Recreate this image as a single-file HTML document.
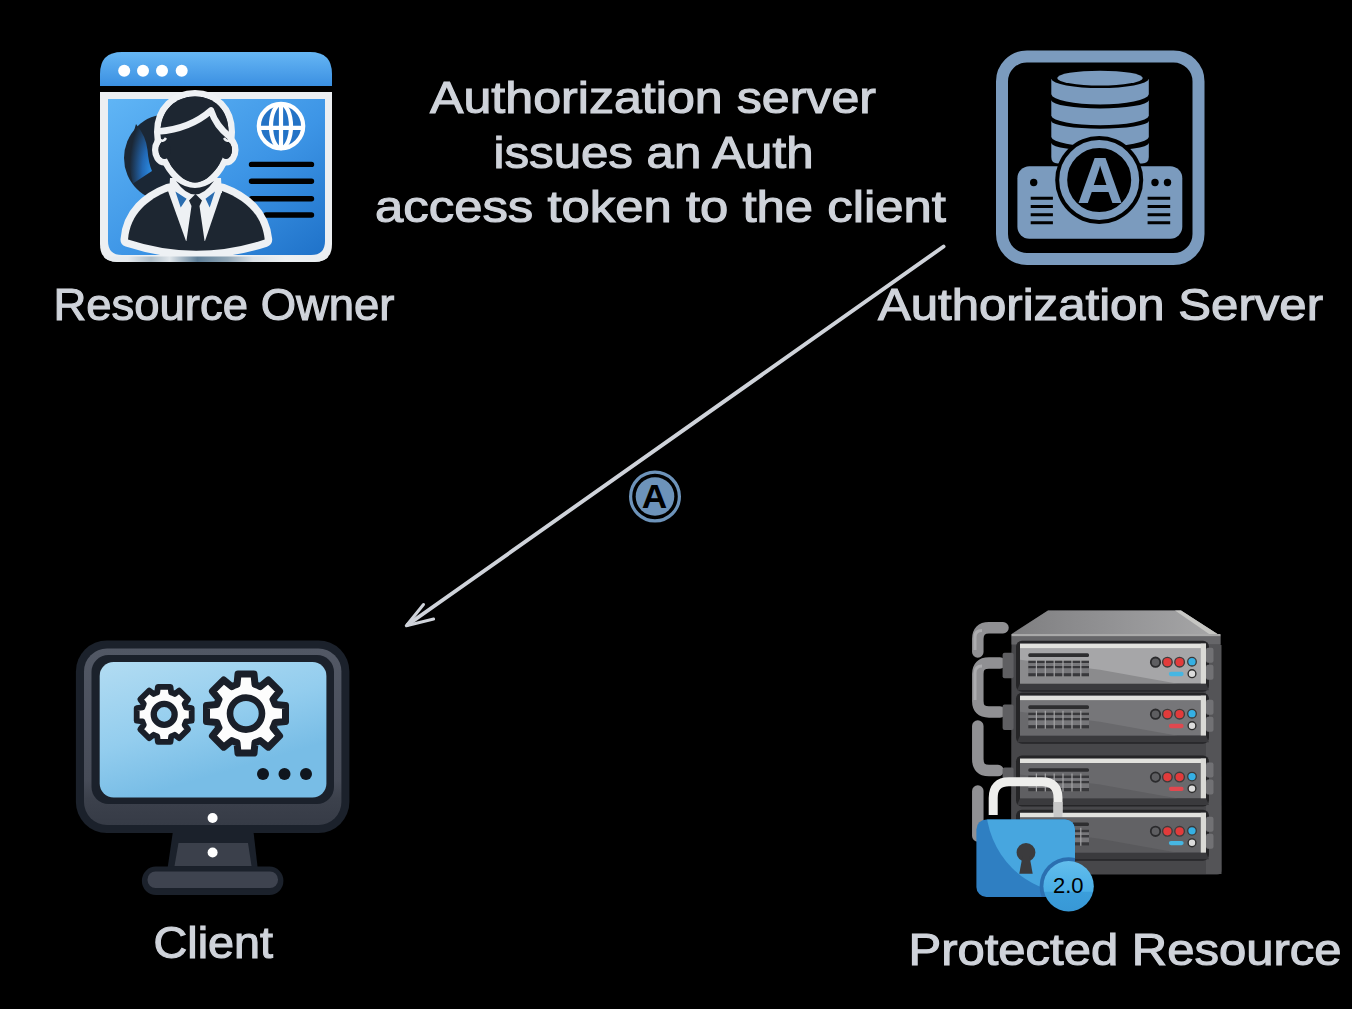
<!DOCTYPE html>
<html><head><meta charset="utf-8">
<style>
html,body{margin:0;padding:0;background:#000;width:1352px;height:1009px;overflow:hidden;}
svg{position:absolute;left:0;top:0;display:block;}
.t{will-change:transform;}
.t{font-family:"Liberation Sans",sans-serif;fill:#cfd3da;font-size:44px;stroke:#cfd3da;stroke-width:1.1px;}
</style></head>
<body>
<svg width="1352" height="1009" viewBox="0 0 1352 1009">
<defs>
  <linearGradient id="obar" x1="0" y1="0" x2="0" y2="1"><stop offset="0" stop-color="#66b6f4"/><stop offset="1" stop-color="#3b90e2"/></linearGradient>
  <linearGradient id="oin" x1="0" y1="0" x2="1" y2="1"><stop offset="0" stop-color="#60b5f5"/><stop offset="0.55" stop-color="#3d95e6"/><stop offset="1" stop-color="#1f72c9"/></linearGradient>
  <linearGradient id="ocirc" x1="0" y1="0" x2="1" y2="1"><stop offset="0" stop-color="#23364a"/><stop offset="1" stop-color="#152030"/></linearGradient>
  <radialGradient id="swirl" cx="0.95" cy="0.78" r="0.95"><stop offset="0" stop-color="#2b8ae0"/><stop offset="0.4" stop-color="#2269b6"/><stop offset="1" stop-color="#1b2735"/></radialGradient>
  <linearGradient id="cgrey" x1="0" y1="648" x2="0" y2="825" gradientUnits="userSpaceOnUse"><stop offset="0" stop-color="#525865"/><stop offset="0.75" stop-color="#474c58"/><stop offset="0.85" stop-color="#3c414c"/><stop offset="1" stop-color="#363b46"/></linearGradient>
  <linearGradient id="cscr" x1="100" y1="662" x2="140" y2="797" gradientUnits="userSpaceOnUse"><stop offset="0" stop-color="#b2dcf2"/><stop offset="0.6" stop-color="#93cdee"/><stop offset="1" stop-color="#78bde6"/></linearGradient>
  <linearGradient id="pface" x1="0" y1="0" x2="0" y2="1"><stop offset="0" stop-color="#a2a2a4"/><stop offset="1" stop-color="#8c8c8e"/></linearGradient>
  <linearGradient id="ptop" x1="0" y1="0" x2="1" y2="0"><stop offset="0" stop-color="#7f7f81"/><stop offset="0.5" stop-color="#939395"/><stop offset="1" stop-color="#a7a7a8"/></linearGradient>
  <linearGradient id="pbadge" x1="0" y1="0" x2="0" y2="1"><stop offset="0" stop-color="#62bdec"/><stop offset="0.6" stop-color="#4aaee6"/><stop offset="0.62" stop-color="#3b9edb"/><stop offset="1" stop-color="#3898d6"/></linearGradient>
  <linearGradient id="ometal" x1="0" y1="0" x2="1" y2="0"><stop offset="0" stop-color="#e9edf0"/><stop offset="0.12" stop-color="#e6eaee"/><stop offset="0.22" stop-color="#aebdc8"/><stop offset="0.3" stop-color="#dfe5ea"/><stop offset="0.42" stop-color="#5f7f98"/><stop offset="0.55" stop-color="#8fa5b5"/><stop offset="0.66" stop-color="#dde3e8"/><stop offset="0.8" stop-color="#eef1f3"/><stop offset="1" stop-color="#e9edf0"/></linearGradient>
</defs>
<rect width="1352" height="1009" fill="#000"/>

<!-- ============ RESOURCE OWNER ICON ============ -->
<g id="owner">
  <path d="M100,86 L100,74 Q100,52 122,52 L310,52 Q332,52 332,74 L332,86 Z" fill="url(#obar)"/>
  <g fill="#fff"><circle cx="124.2" cy="70.7" r="6"/><circle cx="143" cy="70.7" r="6"/><circle cx="162" cy="70.7" r="6"/><circle cx="181.7" cy="70.7" r="6"/></g>
  <path d="M100,92 L332,92 L332,244 Q332,262 314,262 L118,262 Q100,262 100,244 Z" fill="#eceff2"/>
  <path d="M108,99 L325,99 L325,241 Q325,255 311,255 L122,255 Q108,255 108,241 Z" fill="url(#oin)"/>
  <!-- globe -->
  <g fill="none" stroke="#fff" stroke-width="4.2">
    <circle cx="281" cy="126.1" r="22.2" fill="#2473c6"/>
    <ellipse cx="281" cy="126.1" rx="10" ry="22"/>
    <path d="M281,104V148M259,127.9H303"/>
  </g>
  <!-- text lines -->
  <g stroke="#000" stroke-width="5.4" stroke-linecap="round">
    <path d="M251.5,164.4H311.5M251.5,181.3H311.5M251.5,198.7H311.5M266,215H311.5"/>
  </g>
  <!-- dark circle -->
  <circle cx="168" cy="158" r="44" fill="#1b2735"/>
  <path d="M136,124 Q146,136 147.5,150 Q148.5,163 152,171 L133,183.5 Q125,158 136,124 Z" fill="url(#swirl)"/>
  <!-- body white outline + dark -->
  <path d="M128,239.5 C130,214 148,199 169,191 L222,191 C244,199 262,214 264.7,239.5 Q196,262 128,239.5 Z" fill="#1d2631" stroke="#eef1f4" stroke-width="15" stroke-linejoin="round" paint-order="stroke"/>
  <clipPath id="frameclip"><path d="M100,92 L332,92 L332,244 Q332,262 314,262 L118,262 Q100,262 100,244 Z"/></clipPath>
  <rect x="100" y="256.5" width="232" height="6" fill="url(#ometal)" clip-path="url(#frameclip)"/>
  <path d="M170,178 L221,178 L222,193 L169,193 Z" fill="#eef1f4"/>
  <!-- head -->
  <g fill="#1d2631" stroke="#eef1f4" stroke-width="13" paint-order="stroke">
    <path d="M160.5,132 C160.5,110 176,96.5 195,96.5 C214,96.5 228.5,110 228.5,132 C228.5,157 211,182.5 195,182.5 C179,182.5 160.5,157 160.5,132 Z"/>
    <ellipse cx="164.5" cy="150" rx="6" ry="9"/>
    <ellipse cx="226" cy="150" rx="6" ry="9"/>
  </g>
  <path d="M160.5,132 C160.5,110 176,96.5 195,96.5 C214,96.5 228.5,110 228.5,132 C228.5,157 211,182.5 195,182.5 C179,182.5 160.5,157 160.5,132 Z" fill="#1d2631"/>
  <ellipse cx="164.5" cy="150" rx="6" ry="9" fill="#1d2631"/>
  <ellipse cx="226" cy="150" rx="6" ry="9" fill="#1d2631"/>
  <path d="M158,131.5 Q190,129 211,110.5 Q216,126 230,137" fill="none" stroke="#eef1f4" stroke-width="6.5" stroke-linejoin="round"/>
  <path d="M159,139 Q163,143 166,138 M231,139 Q227,143 224,138" fill="none" stroke="#eef1f4" stroke-width="2.5"/>
  <!-- shirt -->
  <path d="M168,191 L222,191 L205,241 L186,241 Z" fill="#eef1f4"/>
  <path d="M175.4,191.6 L186.6,198.7 L180.7,207.5 Z M215,191.6 L205.5,198.7 L209.7,207.5 Z" fill="#2a6db0"/>
  <path d="M195.5,194 L202,200.5 L199.5,206 L205,244 L186,244 L191.5,206 L189,200.5 Z" fill="#1d2631"/>
  <path d="M176,181 Q195,208 214,181 Q195,195 176,181 Z" fill="#1d2631"/>
</g>

<!-- ============ AUTH SERVER ICON ============ -->
<g id="auth">
  <rect x="1002" y="56.4" width="196.5" height="202.6" rx="25" ry="25" fill="none" stroke="#7b9bbe" stroke-width="12"/>
  <!-- database -->
  <path d="M1051.3,79 L1148.8,79 L1148.8,157 Q1148.8,163.5 1142,163.5 L1058,163.5 Q1051.3,163.5 1051.3,157 Z" fill="#7b9bbe"/>
  <path d="M1046,64 L1154,64 L1154,79 L1148.8,79 A48.8,9.5 0 0 1 1051.3,79 L1046,79 Z" fill="#000"/>
  <ellipse cx="1100" cy="78.1" rx="42.8" ry="7.4" fill="#7b9bbe"/>
  <path d="M1046,94.5 L1051.3,94.5 A48.8,10.5 0 0 0 1148.8,94.5 L1154,94.5 L1154,100.4 L1148.8,100.4 A48.8,8.4 0 0 1 1051.3,100.4 L1046,100.4 Z" fill="#000"/>
  <path d="M1046,116 L1051.3,116 A48.8,9.6 0 0 0 1148.8,116 L1154,116 L1154,121.2 L1148.8,121.2 A48.8,7.8 0 0 1 1051.3,121.2 L1046,121.2 Z" fill="#000"/>
  <path d="M1046,137.3 L1051.3,137.3 A48.8,9.6 0 0 0 1148.8,137.3 L1154,137.3 L1154,143.3 L1148.8,143.3 A48.8,7.8 0 0 1 1051.3,143.3 L1046,143.3 Z" fill="#000"/>
  <!-- base -->
  <rect x="1017.4" y="166.2" width="164.9" height="72.5" rx="12" fill="#7b9bbe"/>
  <circle cx="1033.7" cy="182.5" r="3.7" fill="#000"/>
  <circle cx="1155" cy="182.5" r="3.7" fill="#000"/>
  <circle cx="1167.5" cy="182.5" r="3.7" fill="#000"/>
  <g stroke="#000" stroke-width="3">
    <path d="M1030.7,198.3H1052.9M1030.7,206.5H1052.9M1030.7,214.8H1052.9M1030.7,222.8H1052.9"/>
    <path d="M1147.6,198.3H1170.2M1147.6,206.5H1170.2M1147.6,214.8H1170.2M1147.6,222.8H1170.2"/>
  </g>
  <!-- A circle -->
  <circle cx="1099.2" cy="180" r="44" fill="#000"/>
  <circle cx="1099.2" cy="180" r="36" fill="none" stroke="#7b9bbe" stroke-width="8"/>
  <text x="1100" y="202.5" text-anchor="middle" font-family="Liberation Sans" font-weight="bold" font-size="64" fill="#7b9bbe">A</text>
</g>

<!-- ============ CLIENT ICON ============ -->
<g id="client">
  <rect x="75.9" y="640.4" width="273.5" height="192.6" rx="31" fill="#1b212b"/>
  <rect x="84" y="648.4" width="257.4" height="176.6" rx="23" fill="url(#cgrey)"/>
  <rect x="91.5" y="655" width="242.5" height="149" rx="17" fill="#1b212b"/>
  <rect x="99.7" y="662" width="226.7" height="135.5" rx="14" fill="url(#cscr)"/>
  <circle cx="212.6" cy="818" r="5" fill="#fff"/>
  <path d="M173,831 L253.4,831 L257.7,868 L167.6,868 Z" fill="#1b212b"/>
  <path d="M178.5,843 L248,843 L251.5,866 L174.5,866 Z" fill="#3b404b"/>
  <circle cx="212.6" cy="852.5" r="5" fill="#fff"/>
  <rect x="141.9" y="866.6" width="141.5" height="28.4" rx="14" fill="#1b212b"/>
  <rect x="147.5" y="871.5" width="130.5" height="16.5" rx="8" fill="#3e434f"/>
  <g fill="#10161e"><circle cx="263" cy="774" r="6"/><circle cx="284.5" cy="774" r="6"/><circle cx="306" cy="774" r="6"/></g>
  <path d="M157.2,692.6 L157.9,686.9 L170.5,686.9 L171.2,692.6 A22.9,22.9 0 0 1 174.7,694.0 L179.2,690.5 L188.1,699.4 L184.6,703.9 A22.9,22.9 0 0 1 186.0,707.4 L191.7,708.1 L191.7,720.7 L186.0,721.4 A22.9,22.9 0 0 1 184.6,724.9 L188.1,729.4 L179.2,738.3 L174.7,734.8 A22.9,22.9 0 0 1 171.2,736.2 L170.5,741.9 L157.9,741.9 L157.2,736.2 A22.9,22.9 0 0 1 153.7,734.8 L149.2,738.3 L140.3,729.4 L143.8,724.9 A22.9,22.9 0 0 1 142.4,721.4 L136.7,720.7 L136.7,708.1 L142.4,707.4 A22.9,22.9 0 0 1 143.8,703.9 L140.3,699.4 L149.2,690.5 L153.7,694.0 A22.9,22.9 0 0 1 157.2,692.6 Z" fill="#fdfdfd" stroke="#1a1f29" stroke-width="5.8" stroke-linejoin="round"/>
  <circle cx="164.2" cy="714.4" r="10.45" fill="url(#cscr)" stroke="#1a1f29" stroke-width="6.3"/>
  <path d="M237.0,684.5 L238.0,674.1 L254.0,674.1 L255.0,684.5 A30.5,30.5 0 0 1 260.2,686.6 L268.3,680.0 L279.6,691.3 L273.0,699.4 A30.5,30.5 0 0 1 275.1,704.6 L285.5,705.6 L285.5,721.6 L275.1,722.6 A30.5,30.5 0 0 1 273.0,727.8 L279.6,735.9 L268.3,747.2 L260.2,740.6 A30.5,30.5 0 0 1 255.0,742.7 L254.0,753.1 L238.0,753.1 L237.0,742.7 A30.5,30.5 0 0 1 231.8,740.6 L223.7,747.2 L212.4,735.9 L219.0,727.8 A30.5,30.5 0 0 1 216.9,722.6 L206.5,721.6 L206.5,705.6 L216.9,704.6 A30.5,30.5 0 0 1 219.0,699.4 L212.4,691.3 L223.7,680.0 L231.8,686.6 A30.5,30.5 0 0 1 237.0,684.5 Z" fill="#fdfdfd" stroke="#1a1f29" stroke-width="7" stroke-linejoin="round"/>
  <circle cx="246" cy="713.6" r="16" fill="url(#cscr)" stroke="#1a1f29" stroke-width="6.6"/>
</g>

<!-- ============ PROTECTED RESOURCE ICON ============ -->
<g id="prot">
  <!-- pipes -->
  <g fill="none" stroke="#909093" stroke-width="11.5" stroke-linecap="round">
    <path d="M1003,627.8 L989,627.8 Q977.8,627.8 977.8,639 L977.8,652"/>
    <path d="M1000,663 L989,663 Q977.8,663 977.8,674 L977.8,701 Q977.8,712 989,712 L1000,712"/>
    <path d="M977.8,726 L977.8,759 Q977.8,770.6 989,770.6 L998,770.6"/>
    <path d="M977.8,791 L977.8,836"/>
  </g>
  <g fill="none" stroke="#b4b4b6" stroke-width="3" opacity="0.8">
    <path d="M975,650 L975,637 Q975,630.5 982,630.5"/>
    <path d="M975,700 L975,673 Q975,666 982,666"/>
  </g>
  <!-- cabinet -->
  <path d="M1048,610.5 L1181,610.5 L1220.5,636 L1221.5,870 Q1221.5,874.5 1217,874.5 L1015,874.5 Q1011,874.5 1011,870 L1011.5,634 Z" fill="#47474a"/>
  <path d="M1048,610.5 L1181,610.5 L1220.5,636 L1011.9,634 Z" fill="url(#ptop)"/>
  <path d="M1181,610.5 L1220.5,636 L1212,636 L1175,610.5 Z" fill="#c6c6c3"/>
  <rect x="1011.5" y="634" width="209" height="2.5" fill="#a9a9a9"/>
  <rect x="1011.5" y="636.5" width="209" height="8" fill="#666669"/>
  <rect x="1206" y="645" width="15.5" height="229" fill="#545457"/>
  <!-- connectors -->
  <g fill="#5f5f62"><rect x="1002.6" y="652.7" width="11" height="25.6" rx="2"/><rect x="1002.6" y="704.5" width="11" height="25.6" rx="2"/><rect x="1002.6" y="767.6" width="11" height="14.4" rx="2"/></g>
  <g>
    <rect x="1016" y="640.7" width="193" height="51" rx="6" fill="#252527"/>
    <rect x="1020" y="643.7" width="186" height="40" fill="#a6a6a8"/>
    <path d="M1020,659.7 L1100,669.7 L1178,683.7 L1020,683.7 Z" fill="#8b8b8d"/>
    <rect x="1020" y="643.7" width="186" height="4.4" fill="#e2e2de"/>
    <rect x="1200.8" y="643.7" width="5.2" height="40" fill="#dadad6"/>
    <path d="M1020,683.7 L1206,683.7 L1209,690.2 L1017,690.2 Z" fill="#3a3a3d"/>
    <rect x="1206" y="647.7" width="7.5" height="15" rx="2" fill="#717174"/>
    <rect x="1206" y="664.7" width="7.5" height="15" rx="2" fill="#717174"/>
    <rect x="1028.3" y="653.3000000000001" width="60.7" height="3.6" rx="1.5" fill="#2e2e30"/>
    <g fill="#38383b"><rect x="1028.3" y="660.7" width="60.7" height="2.6"/><rect x="1028.3" y="665.9000000000001" width="60.7" height="2.6"/><rect x="1028.3" y="673.1" width="60.7" height="3.2"/></g>
    <g fill="#77777a"><rect x="1028.3" y="663.3000000000001" width="60.7" height="2.6"/><rect x="1028.3" y="668.5" width="60.7" height="4.6"/></g>
    <path d="M1036.4,658.7V676.7 M1045.3,658.7V676.7 M1054.2,658.7V676.7 M1063,658.7V676.7 M1072,658.7V676.7 M1080.8,658.7V676.7" stroke="#a4a4a6" stroke-width="1.2"/>
    <circle cx="1155.5" cy="662.2" r="4.7" fill="#5e5e61" stroke="#2a2a2c" stroke-width="1.8"/>
    <circle cx="1167.4" cy="662.2" r="4.8" fill="#e23b3b" stroke="#3d3d3d" stroke-width="1.4"/>
    <circle cx="1179.6" cy="662.2" r="4.8" fill="#e23b3b" stroke="#3d3d3d" stroke-width="1.4"/>
    <circle cx="1192" cy="661.7" r="4.3" fill="#35b0e4" stroke="#3a3a3a" stroke-width="1.3"/>
    <circle cx="1192" cy="673.7" r="3.9" fill="#dcdcdc" stroke="#2e2e2e" stroke-width="1.4"/>
    <path d="M1171,674.0H1181.5" stroke="#46b6e2" stroke-width="4.3" stroke-linecap="round"/>
  </g>
  <g>
    <rect x="1016" y="692.7" width="193" height="51" rx="6" fill="#252527"/>
    <rect x="1020" y="695.7" width="186" height="40" fill="#767679"/>
    <path d="M1020,711.7 L1100,721.7 L1178,735.7 L1020,735.7 Z" fill="#69696c"/>
    <rect x="1020" y="695.7" width="186" height="4.4" fill="#e2e2de"/>
    <rect x="1200.8" y="695.7" width="5.2" height="40" fill="#dadad6"/>
    <path d="M1020,735.7 L1206,735.7 L1209,742.2 L1017,742.2 Z" fill="#3a3a3d"/>
    <rect x="1206" y="699.7" width="7.5" height="15" rx="2" fill="#717174"/>
    <rect x="1206" y="716.7" width="7.5" height="15" rx="2" fill="#717174"/>
    <rect x="1028.3" y="705.3000000000001" width="60.7" height="3.6" rx="1.5" fill="#2e2e30"/>
    <g fill="#38383b"><rect x="1028.3" y="712.7" width="60.7" height="2.6"/><rect x="1028.3" y="717.9000000000001" width="60.7" height="2.6"/><rect x="1028.3" y="725.1" width="60.7" height="3.2"/></g>
    <g fill="#77777a"><rect x="1028.3" y="715.3000000000001" width="60.7" height="2.6"/><rect x="1028.3" y="720.5" width="60.7" height="4.6"/></g>
    <path d="M1036.4,710.7V728.7 M1045.3,710.7V728.7 M1054.2,710.7V728.7 M1063,710.7V728.7 M1072,710.7V728.7 M1080.8,710.7V728.7" stroke="#a4a4a6" stroke-width="1.2"/>
    <circle cx="1155.5" cy="714.2" r="4.7" fill="#5e5e61" stroke="#2a2a2c" stroke-width="1.8"/>
    <circle cx="1167.4" cy="714.2" r="4.8" fill="#e23b3b" stroke="#3d3d3d" stroke-width="1.4"/>
    <circle cx="1179.6" cy="714.2" r="4.8" fill="#e23b3b" stroke="#3d3d3d" stroke-width="1.4"/>
    <circle cx="1192" cy="713.7" r="4.3" fill="#35b0e4" stroke="#3a3a3a" stroke-width="1.3"/>
    <circle cx="1192" cy="725.7" r="3.9" fill="#dcdcdc" stroke="#2e2e2e" stroke-width="1.4"/>
    <path d="M1171,726.0H1181.5" stroke="#e0484f" stroke-width="4.3" stroke-linecap="round"/>
  </g>
  <g>
    <rect x="1016" y="755.6" width="193" height="51" rx="6" fill="#252527"/>
    <rect x="1020" y="758.6" width="186" height="40" fill="#69696c"/>
    <path d="M1020,774.6 L1100,784.6 L1178,798.6 L1020,798.6 Z" fill="#5f5f62"/>
    <rect x="1020" y="758.6" width="186" height="4.4" fill="#e2e2de"/>
    <rect x="1200.8" y="758.6" width="5.2" height="40" fill="#dadad6"/>
    <path d="M1020,798.6 L1206,798.6 L1209,805.1 L1017,805.1 Z" fill="#3a3a3d"/>
    <rect x="1206" y="762.6" width="7.5" height="15" rx="2" fill="#717174"/>
    <rect x="1206" y="779.6" width="7.5" height="15" rx="2" fill="#717174"/>
    <rect x="1028.3" y="768.2" width="60.7" height="3.6" rx="1.5" fill="#2e2e30"/>
    <g fill="#38383b"><rect x="1028.3" y="775.6" width="60.7" height="2.6"/><rect x="1028.3" y="780.8000000000001" width="60.7" height="2.6"/><rect x="1028.3" y="788.0" width="60.7" height="3.2"/></g>
    <g fill="#77777a"><rect x="1028.3" y="778.2" width="60.7" height="2.6"/><rect x="1028.3" y="783.4" width="60.7" height="4.6"/></g>
    <path d="M1036.4,773.6V791.6 M1045.3,773.6V791.6 M1054.2,773.6V791.6 M1063,773.6V791.6 M1072,773.6V791.6 M1080.8,773.6V791.6" stroke="#a4a4a6" stroke-width="1.2"/>
    <circle cx="1155.5" cy="777.1" r="4.7" fill="#5e5e61" stroke="#2a2a2c" stroke-width="1.8"/>
    <circle cx="1167.4" cy="777.1" r="4.8" fill="#e23b3b" stroke="#3d3d3d" stroke-width="1.4"/>
    <circle cx="1179.6" cy="777.1" r="4.8" fill="#e23b3b" stroke="#3d3d3d" stroke-width="1.4"/>
    <circle cx="1192" cy="776.6" r="4.3" fill="#35b0e4" stroke="#3a3a3a" stroke-width="1.3"/>
    <circle cx="1192" cy="788.6" r="3.9" fill="#dcdcdc" stroke="#2e2e2e" stroke-width="1.4"/>
    <path d="M1171,788.9H1181.5" stroke="#e0484f" stroke-width="4.3" stroke-linecap="round"/>
  </g>
  <g>
    <rect x="1016" y="809.8" width="193" height="51" rx="6" fill="#252527"/>
    <rect x="1020" y="812.8" width="186" height="40" fill="#626265"/>
    <path d="M1020,828.8 L1100,838.8 L1178,852.8 L1020,852.8 Z" fill="#59595c"/>
    <rect x="1020" y="812.8" width="186" height="4.4" fill="#e2e2de"/>
    <rect x="1200.8" y="812.8" width="5.2" height="40" fill="#dadad6"/>
    <path d="M1020,852.8 L1206,852.8 L1209,859.3 L1017,859.3 Z" fill="#3a3a3d"/>
    <rect x="1206" y="816.8" width="7.5" height="15" rx="2" fill="#717174"/>
    <rect x="1206" y="833.8" width="7.5" height="15" rx="2" fill="#717174"/>
    <rect x="1028.3" y="822.4" width="60.7" height="3.6" rx="1.5" fill="#2e2e30"/>
    <g fill="#38383b"><rect x="1028.3" y="829.8" width="60.7" height="2.6"/><rect x="1028.3" y="835.0" width="60.7" height="2.6"/><rect x="1028.3" y="842.1999999999999" width="60.7" height="3.2"/></g>
    <g fill="#77777a"><rect x="1028.3" y="832.4" width="60.7" height="2.6"/><rect x="1028.3" y="837.5999999999999" width="60.7" height="4.6"/></g>
    <path d="M1036.4,827.8V845.8 M1045.3,827.8V845.8 M1054.2,827.8V845.8 M1063,827.8V845.8 M1072,827.8V845.8 M1080.8,827.8V845.8" stroke="#a4a4a6" stroke-width="1.2"/>
    <circle cx="1155.5" cy="831.3" r="4.7" fill="#5e5e61" stroke="#2a2a2c" stroke-width="1.8"/>
    <circle cx="1167.4" cy="831.3" r="4.8" fill="#e23b3b" stroke="#3d3d3d" stroke-width="1.4"/>
    <circle cx="1179.6" cy="831.3" r="4.8" fill="#e23b3b" stroke="#3d3d3d" stroke-width="1.4"/>
    <circle cx="1192" cy="830.8" r="4.3" fill="#35b0e4" stroke="#3a3a3a" stroke-width="1.3"/>
    <circle cx="1192" cy="842.8" r="3.9" fill="#dcdcdc" stroke="#2e2e2e" stroke-width="1.4"/>
    <path d="M1171,843.0999999999999H1181.5" stroke="#46b6e2" stroke-width="4.3" stroke-linecap="round"/>
  </g>
  <!-- lock shackle -->
  <path d="M993.2,815 L993.2,798 Q993.2,781.8 1009,781.8 L1042,781.8 Q1058,781.8 1058,798 L1058,817" fill="none" stroke="#eeeeec" stroke-width="9"/>
  <path d="M1058,802 L1058,817" fill="none" stroke="#c8c8c8" stroke-width="9"/>
  <!-- lock body -->
  <rect x="976.4" y="819.4" width="98.6" height="77.6" rx="10" fill="#2f7fc2"/>
  <clipPath id="lockclip"><rect x="976.4" y="819.4" width="98.6" height="77.6" rx="10"/></clipPath>
  <circle cx="1075" cy="805" r="89" fill="#47a6df" clip-path="url(#lockclip)"/>
  <circle cx="1026" cy="852.4" r="9.4" fill="#3b3b3d"/>
  <path d="M1022.5,856 L1029.5,856 L1032.7,873.8 L1019.3,873.8 Z" fill="#3b3b3d"/>
  <!-- badge -->
  <circle cx="1068.6" cy="886.2" r="29" fill="#2b6fb0" clip-path="url(#lockclip)"/>
  <circle cx="1068.6" cy="886.2" r="25.2" fill="url(#pbadge)"/>
  <text x="1068.3" y="893.4" text-anchor="middle" font-family="Liberation Sans" font-size="22" fill="#000">2.0</text>
</g>

<!-- ============ ARROW ============ -->
<g id="arrow" stroke="#cfd3da" stroke-linecap="round" stroke-linejoin="round" fill="none">
  <path d="M943.6,246.5 L408,624.5" stroke-width="3.9"/>
  <path d="M423.5,604.5 L406.3,625.8 L433.6,619" stroke-width="3"/>
</g>
<!-- badge A -->
<g id="badge">
  <circle cx="655" cy="496.5" r="24.4" fill="none" stroke="#6d93ba" stroke-width="3.2"/>
  <circle cx="655" cy="496.5" r="19.3" fill="#6d93ba"/>
  <text x="0" y="0" transform="translate(654.5,507.8) scale(1.07,1.0)" text-anchor="middle" font-family="Liberation Sans" font-weight="bold" font-size="33" fill="#000">A</text>
</g>

<!-- ============ TEXTS ============ -->
<text class="t" x="53.5" y="319.5" textLength="341" lengthAdjust="spacingAndGlyphs">Resource Owner</text>
<text class="t" x="878" y="319.5" textLength="445" lengthAdjust="spacingAndGlyphs">Authorization Server</text>
<text class="t" x="430" y="112.6" textLength="446" lengthAdjust="spacingAndGlyphs">Authorization server</text>
<text class="t" x="493.5" y="168.3" textLength="320" lengthAdjust="spacingAndGlyphs">issues an Auth</text>
<text class="t" x="375" y="222.2" textLength="571" lengthAdjust="spacingAndGlyphs">access token to the client</text>
<text class="t" x="153.5" y="957.7" textLength="119.5" lengthAdjust="spacingAndGlyphs">Client</text>
<text class="t" x="908.5" y="965" textLength="433" lengthAdjust="spacingAndGlyphs">Protected Resource</text>
</svg>
</body></html>
